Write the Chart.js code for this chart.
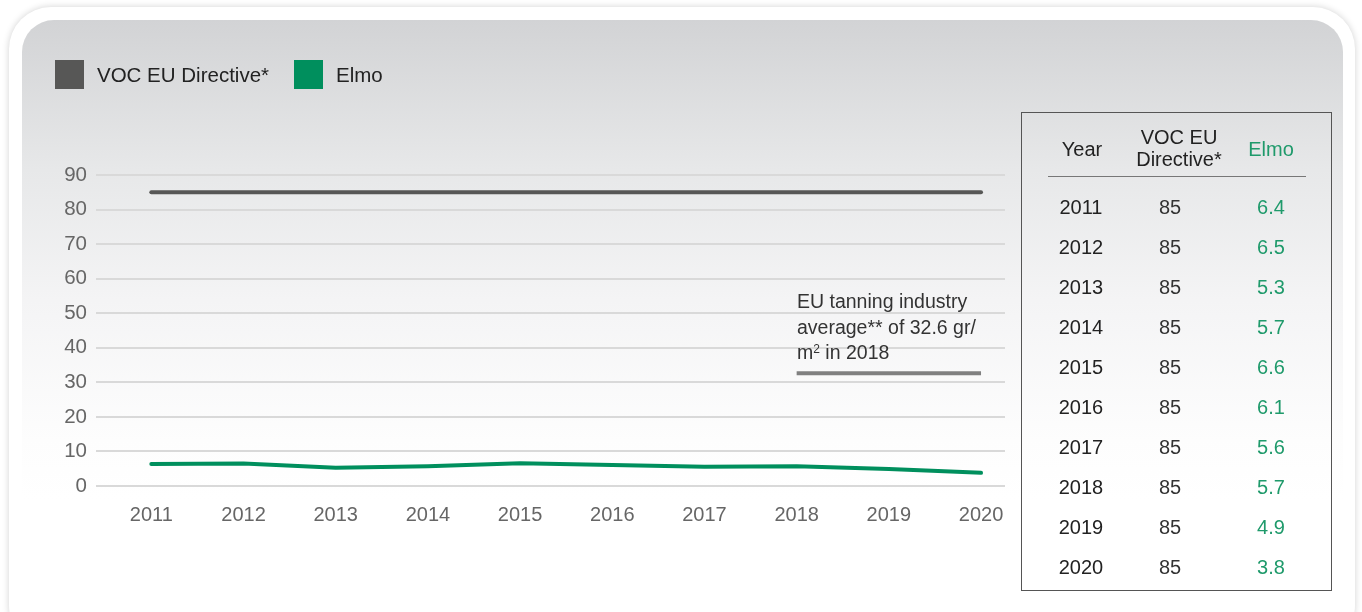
<!DOCTYPE html>
<html>
<head>
<meta charset="utf-8">
<script src="https://cdn.jsdelivr.net/npm/chart.js@4"></script>
<style>
  body { margin: 0; background: #fff; font-family: 'Liberation Sans', Arial, sans-serif; }
  #wrap { position: relative; width: 1362px; height: 612px; overflow: hidden; }
  .card { position: absolute; left: 9px; top: 7px; width: 1346px; height: 640px; background: #fff;
          border-radius: 42px; box-shadow: 0 0 7px rgba(0,0,0,0.18); }
  .panel { position: absolute; left: 22px; top: 20px; width: 1321px; height: 640px; border-radius: 32px;
           background: linear-gradient(#d2d3d5 0px, #e7e8e9 150px, #f4f4f5 280px, #fdfdfd 420px, #fff 480px); }
  canvas { position: absolute; left: 0; top: 0; }
  .legend { position: absolute; top: 60px; font-size: 20.5px; color: #222; line-height: 29px; }
  .legend span.box { display: inline-block; width: 29px; height: 29px; vertical-align: top; margin-right: 13px; }
  .note { position: absolute; left: 797px; top: 289px; font-size: 19.5px; line-height: 25.5px; color: #333; }
  .note sup { font-size: 12px; vertical-align: 6px; line-height: 0; }
  .tbl { position: absolute; left: 1021px; top: 112px; width: 309px; height: 477px; border: 1px solid #555; }
  .cell { position: absolute; font-size: 20px; text-align: center; width: 120px; margin-left: -60px; line-height: 22px; }
  .sep { position: absolute; left: 26px; width: 258px; top: 63px; height: 0; border-top: 1.5px solid #777; }
</style>
</head>
<body>
<div id="wrap">
  <div class="card"></div>
  <div class="panel"></div>
  <canvas id="chart" width="1362" height="612"></canvas>
  <div class="legend" style="left:55px"><span class="box" style="background:#575756"></span>VOC EU Directive*</div>
  <div class="legend" style="left:294px"><span class="box" style="background:#008f5d"></span>Elmo</div>
  <div class="note">EU tanning industry<br>average** of 32.6 gr/<br>m<sup>2</sup> in 2018</div>
  <div class="tbl" id="tbl"><div class="sep"></div></div>
</div>
<script>
// данные
const years = [2011, 2012, 2013, 2014, 2015, 2016, 2017, 2018, 2019, 2020];
const vocDirective = [85, 85, 85, 85, 85, 85, 85, 85, 85, 85];
const elmo = [6.4, 6.5, 5.3, 5.7, 6.6, 6.1, 5.6, 5.7, 4.9, 3.8];
const industryYears = [2018, 2019, 2020];
const industryAvg = [32.6, 32.6, 32.6];
const yTicks = [0, 10, 20, 30, 40, 50, 60, 70, 80, 90];

const green = '#008f5d';
const greenText = '#1f9a6b';

// таблица справа
const tbl = document.getElementById('tbl');
function cell(text, x, y, color) {
  const d = document.createElement('div');
  d.className = 'cell';
  d.style.left = x + 'px';
  d.style.top = (y - 11) + 'px';
  d.style.color = color;
  d.innerHTML = text;
  tbl.appendChild(d);
}
cell('Year', 60, 36, '#222');
cell('VOC EU<br>Directive*', 157, 24, '#222');
cell('Elmo', 249, 36, greenText);
years.forEach((y, i) => {
  const top = 94 + i * 40;
  cell(y, 59, top, '#222');
  cell(vocDirective[i], 148, top, '#333');
  cell(elmo[i].toFixed(1), 249, top, greenText);
});

const pts = (xs, ys) => xs.map((x, i) => ({x: x, y: ys[i]}));

new Chart(document.getElementById('chart'), {
  type: 'line',
  data: {
    datasets: [
      { label: 'VOC EU Directive*', data: pts(years, vocDirective), borderColor: '#575756', borderWidth: 4 },
      { label: 'Elmo', data: pts(years, elmo), borderColor: green, borderWidth: 4 },
      { label: 'EU tanning industry average', data: pts(industryYears, industryAvg), borderColor: '#808080', borderWidth: 4, borderCapStyle: 'butt' }
    ]
  },
  options: {
    responsive: false,
    animation: false,
    layout: { padding: { left: 36, right: 357, top: 175, bottom: 66 } },
    elements: {
      point: { radius: 0 },
      line: { tension: 0, borderCapStyle: 'round' }
    },
    plugins: { legend: { display: false }, tooltip: { enabled: false } },
    scales: {
      x: {
        type: 'linear',
        min: 2010.4,
        max: 2020.26,
        afterBuildTicks: s => { s.ticks = years.map(v => ({value: v})); },
        afterFit: s => { s.height = 60; },
        grid: { display: false },
        border: { display: false },
        ticks: { color: '#666', font: { family: 'Liberation Sans', size: 20 }, padding: 9, callback: v => String(v) }
      },
      y: {
        min: 0,
        max: 90,
        afterBuildTicks: s => { s.ticks = yTicks.map(v => ({value: v})); },
        afterFit: s => { s.width = 60; },
        grid: { color: '#d9d9d9', lineWidth: 2, drawTicks: false },
        border: { display: false },
        ticks: { color: '#666', font: { family: 'Liberation Sans', size: 20.5 }, padding: 9 }
      }
    }
  }
});
</script>
</body>
</html>
